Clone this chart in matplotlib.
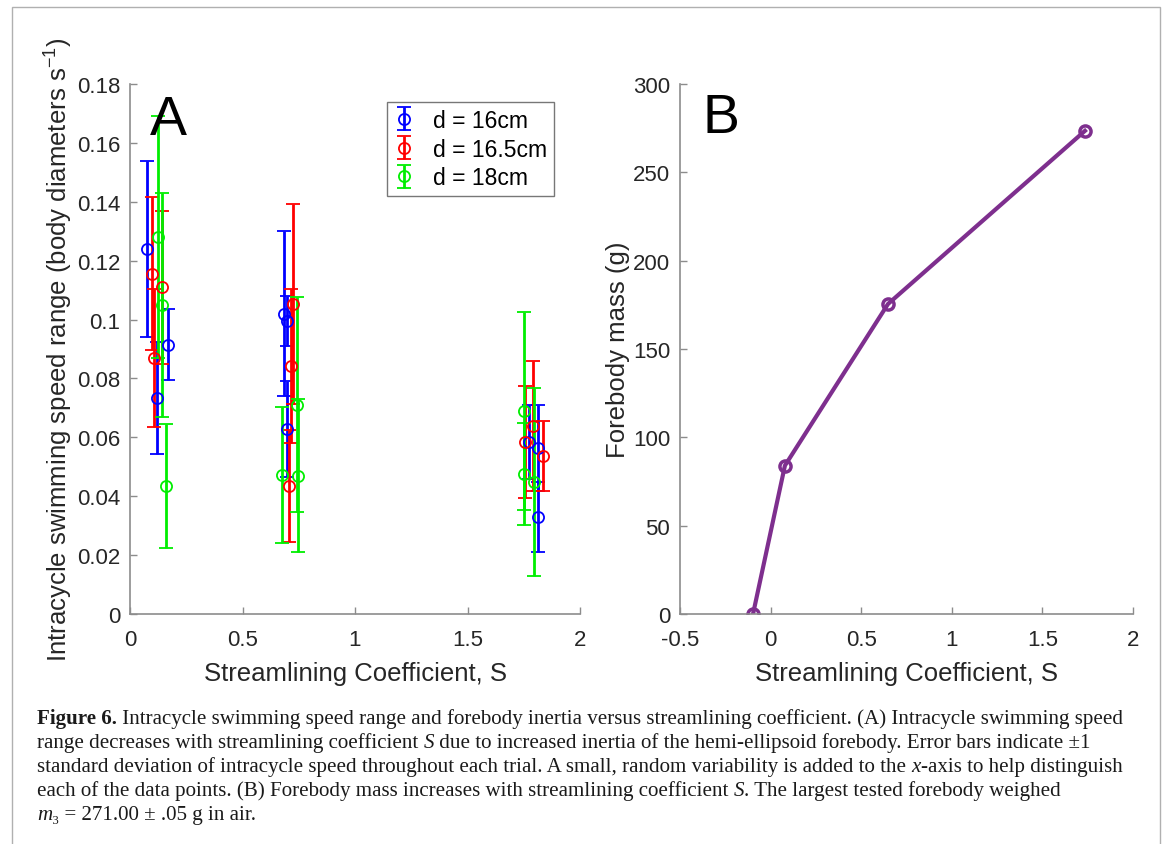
import matplotlib
matplotlib.use('Agg')
import matplotlib.pyplot as plt
from matplotlib.patches import Rectangle
import numpy as np

# Panel A data: streamlining coefficient (with jitter), speed range, std dev
x_blue = [0.076, 0.120, 0.169, 0.684, 0.698, 0.698, 1.773, 1.813, 1.813]
y_blue = [0.124, 0.0735, 0.0915, 0.102, 0.0995, 0.0628, 0.0584, 0.0564, 0.033]
e_blue = [0.030, 0.019, 0.012, 0.028, 0.0085, 0.0163, 0.0126, 0.0146, 0.0118]

x_red = [0.098, 0.107, 0.142, 0.724, 0.716, 0.707, 1.790, 1.756, 1.836]
y_red = [0.1155, 0.087, 0.111, 0.1053, 0.0842, 0.0435, 0.0639, 0.0584, 0.0537]
e_red = [0.026, 0.0235, 0.026, 0.034, 0.0262, 0.019, 0.022, 0.019, 0.012]

x_green = [0.124, 0.142, 0.158, 0.676, 0.748, 0.742, 1.751, 1.751, 1.796]
y_green = [0.128, 0.105, 0.0435, 0.0472, 0.0469, 0.071, 0.069, 0.0476, 0.0448]
e_green = [0.041, 0.038, 0.021, 0.023, 0.026, 0.0365, 0.0336, 0.0173, 0.032]

labels = ['d = 16cm', 'd = 16.5cm', 'd = 18cm']

# Panel B data
s_vals = [-0.097, 0.079, 0.648, 1.735]
mass = [0, 84, 175.5, 273.5]

caption = [
    [('Figure 6.', 'bold'), (' Intracycle swimming speed range and forebody inertia versus streamlining coefficient. (A) Intracycle swimming speed', 'normal')],
    [('range decreases with streamlining coefficient ', 'normal'), ('S', 'italic'),
     (' due to increased inertia of the hemi-ellipsoid forebody. Error bars indicate \u00b11', 'normal')],
    [('standard deviation of intracycle speed throughout each trial. A small, random variability is added to the ', 'normal'),
     ('x', 'italic'), ('-axis to help distinguish', 'normal')],
    [('each of the data points. (B) Forebody mass increases with streamlining coefficient ', 'normal'), ('S', 'italic'),
     ('. The largest tested forebody weighed', 'normal')],
    [('m', 'italic'), ('\u2083 = 271.00 \u00b1 .05 g in air.', 'normal')],
]

plt.rcParams['font.family'] = ['Liberation Sans', 'DejaVu Sans']
W, H = 1171, 845
fig = plt.figure(figsize=(W / 100, H / 100), dpi=100)

gray = '#8c8c8c'
txtc = '#262626'


def style_axes(ax):
    for s in ['top', 'right']:
        ax.spines[s].set_visible(False)
    for s in ['left', 'bottom']:
        ax.spines[s].set_color(gray)
        ax.spines[s].set_linewidth(1.2)
    ax.tick_params(direction='in', length=5, width=1, color=gray,
                   labelsize=16, labelcolor=txtc)
    ax.tick_params(axis='x', pad=11)
    ax.tick_params(axis='y', pad=7)


# ---- Panel A
axA = fig.add_axes([130 / W, 1 - 615 / H, 450 / W, 530 / H])
series = [(x_blue, y_blue, e_blue, '#0000ff'),
          (x_red, y_red, e_red, '#ff0000'),
          (x_green, y_green, e_green, '#00ee00')]
for (xs, ys, es, c), lab in zip(series, labels):
    axA.errorbar(xs, ys, yerr=es, fmt='o', color=c, mfc='none', mec=c,
                 ms=8, mew=1.3, elinewidth=2, capsize=5, capthick=1.8, label=lab)
axA.set_xlim(0, 2)
axA.set_ylim(0, 0.18)
axA.set_xticks([0, 0.5, 1, 1.5, 2])
axA.set_xticklabels(['0', '0.5', '1', '1.5', '2'])
axA.set_yticks(np.arange(0, 0.181, 0.02))
axA.set_yticklabels(['0', '0.02', '0.04', '0.06', '0.08', '0.1', '0.12', '0.14', '0.16', '0.18'])
axA.set_xlabel('Streamlining Coefficient, S', fontsize=18.5, color=txtc, labelpad=8)
axA.set_ylabel('Intracycle swimming speed range (body diameters s$^{\\mathregular{-1}}$)',
               fontsize=18.5, color=txtc, labelpad=2)
style_axes(axA)
axA.text(0.09, 0.163, 'A', fontsize=40, color='black')
leg = axA.legend(loc='upper left', bbox_to_anchor=(0.571, 0.966), fontsize=16.5,
                 frameon=True, fancybox=False, edgecolor='#555555',
                 handlelength=0.9, handletextpad=0.8, borderpad=0.3, labelspacing=0.25,
                 borderaxespad=0)
leg.get_frame().set_linewidth(1.0)

# ---- Panel B
axB = fig.add_axes([680 / W, 1 - 615 / H, 453 / W, 530 / H])
axB.plot(s_vals, mass, '-o', color='#7e2f8e', lw=3, ms=8, mfc='none', mec='#7e2f8e', mew=2.5)
axB.set_xlim(-0.5, 2)
axB.set_ylim(0, 300)
axB.set_xticks([-0.5, 0, 0.5, 1, 1.5, 2])
axB.set_xticklabels(['-0.5', '0', '0.5', '1', '1.5', '2'])
axB.set_yticks(range(0, 301, 50))
axB.set_xlabel('Streamlining Coefficient, S', fontsize=18.5, color=txtc, labelpad=8)
axB.set_ylabel('Forebody mass (g)', fontsize=18.5, color=txtc, labelpad=2)
style_axes(axB)
axB.text(-0.375, 273, 'B', fontsize=40, color='black')

# ---- outer frame
fig.add_artist(Rectangle((12 / W, -0.01), (1160 - 12) / W, 1 - 8 / H + 0.01,
                         transform=fig.transFigure, fill=False, edgecolor='#b0b0b0', lw=1))

# ---- caption, drawn segment by segment
renderer = fig.canvas.get_renderer()
y0 = 1 - 724 / H
for i, line in enumerate(caption):
    x = 37 / W
    y = y0 - i * 24 / H
    for txt, st in line:
        kw = dict(fontsize=15.1, family=['Liberation Serif', 'DejaVu Serif'],
                  color='#1a1a1a', va='baseline', ha='left')
        if st == 'bold':
            kw['weight'] = 'bold'
        elif st == 'italic':
            kw['style'] = 'italic'
        t = fig.text(x, y, txt, **kw)
        bb = t.get_window_extent(renderer=renderer)
        x = x + bb.width / W

fig.savefig('out.png', dpi=100)
